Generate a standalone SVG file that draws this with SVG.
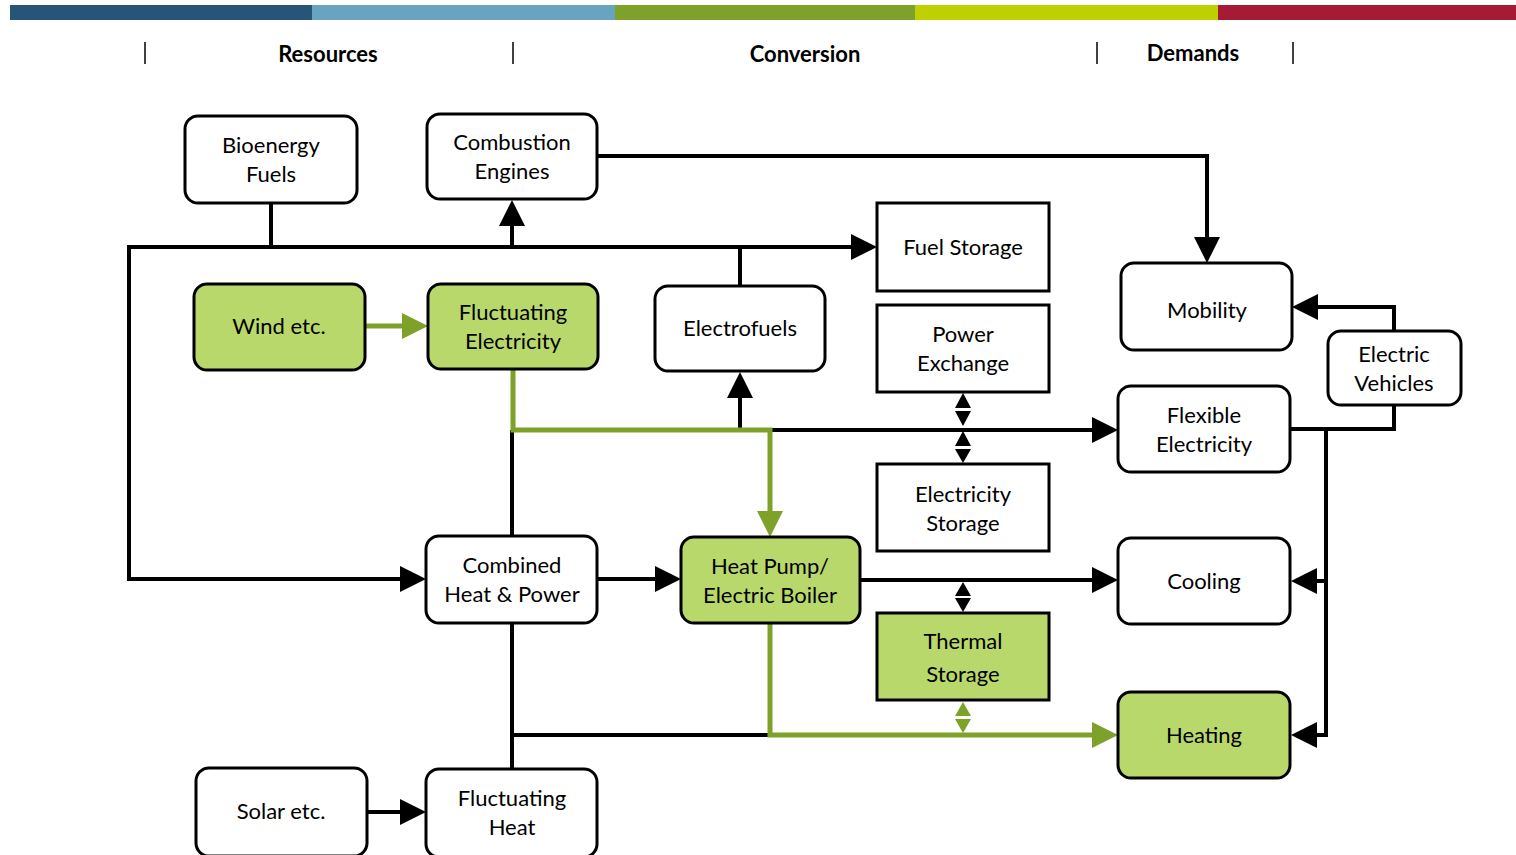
<svg xmlns="http://www.w3.org/2000/svg" width="1516" height="855" viewBox="0 0 1516 855">
<style>
.n{fill:#fff;stroke:#000;stroke-width:3}
.g{fill:#B9D86C;stroke:#000;stroke-width:3}
.t{font-family:Lato,"Liberation Sans",sans-serif;font-size:22px;fill:#000;text-anchor:middle;dominant-baseline:central;transform:translateY(-2px)}
.h{font-family:Lato,"Liberation Sans",sans-serif;font-size:22px;font-weight:bold;fill:#000;text-anchor:middle;dominant-baseline:central;transform:translateY(-1px)}
.c{fill:none;stroke:#000;stroke-width:4;stroke-linejoin:miter}
.cg{fill:none;stroke:#7EA12A;stroke-width:5;stroke-linejoin:miter}
.sep{stroke:#000;stroke-width:1.5}
</style>
<defs>
<marker id="ab" markerUnits="userSpaceOnUse" markerWidth="26" markerHeight="26" refX="18" refY="13" orient="auto" viewBox="0 0 26 26"><path d="M0,0 L26,13 L0,26 z" fill="#000"/></marker>
<marker id="ag" markerUnits="userSpaceOnUse" markerWidth="26" markerHeight="26" refX="18" refY="13" orient="auto" viewBox="0 0 26 26"><path d="M0,0 L26,13 L0,26 z" fill="#7EA12A"/></marker>
</defs>
<g id="header">
<rect x="10" y="5" width="302" height="15" fill="#275577"/>
<rect x="312" y="5" width="303" height="15" fill="#68A3C0"/>
<rect x="615" y="5" width="300" height="15" fill="#7EA12A"/>
<rect x="915" y="5" width="303" height="15" fill="#BFD000"/>
<rect x="1218" y="5" width="298" height="15" fill="#A51A35"/>
<line class="sep" x1="145" y1="42" x2="145" y2="64"/>
<line class="sep" x1="513" y1="42" x2="513" y2="64"/>
<line class="sep" x1="1097" y1="42" x2="1097" y2="64"/>
<line class="sep" x1="1293" y1="42" x2="1293" y2="64"/>
<text class="h" x="328" y="54">Resources</text>
<text class="h" x="805" y="54">Conversion</text>
<text class="h" x="1193" y="53">Demands</text>
</g>
<g id="connectors">
<path class="c" d="M271,203 V247"/>
<path class="c" d="M271,247 H869" marker-end="url(#ab)"/>
<path class="c" d="M271,247 H129 V579 H418" marker-end="url(#ab)"/>
<path class="c" d="M512,247 V208" marker-end="url(#ab)"/>
<path class="c" d="M740,286 V247"/>
<path class="c" d="M597,156 H1207 V255" marker-end="url(#ab)"/>
<path class="c" d="M740,430 V380" marker-end="url(#ab)"/>
<path class="c" d="M768,430 H1110" marker-end="url(#ab)"/>
<path class="c" d="M512,430 V536"/>
<path class="c" d="M597,579 H673" marker-end="url(#ab)"/>
<path class="c" d="M860,580 H1110" marker-end="url(#ab)"/>
<path class="c" d="M512,623 V769"/>
<path class="c" d="M512,735 H770"/>
<path class="c" d="M367,812 H418" marker-end="url(#ab)"/>
<path class="c" d="M1394,331 V307 H1300" marker-end="url(#ab)"/>
<path class="c" d="M1290,429 H1394 V405"/>
<path class="c" d="M1326,429 V735 H1299" marker-end="url(#ab)"/>
<path class="c" d="M1326,581 H1299" marker-end="url(#ab)"/>
<path class="cg" d="M365,326 H420" marker-end="url(#ag)"/>
<path class="cg" d="M513,369 V430 H770 V529" marker-end="url(#ag)"/>
<path class="cg" d="M770,623 V735 H1110" marker-end="url(#ag)"/>
<polygon points="963,393 955,408 971,408"/>
<polygon points="955,411 971,411 963,426"/>
<polygon points="963,431 955,446 971,446"/>
<polygon points="955,449 971,449 963,463"/>
<polygon points="963,582 955,596 971,596"/>
<polygon points="955,598 971,598 963,612"/>
<polygon points="963,702 955,716 971,716" fill="#7EA12A"/>
<polygon points="955,719 971,719 963,733" fill="#7EA12A"/>
</g>
<g id="bioenergy"><rect class="n" x="185" y="116" width="172" height="87" rx="13"/><text class="t" x="271" y="146">Bioenergy</text><text class="t" x="271" y="175">Fuels</text></g>
<g id="combustion"><rect class="n" x="427" y="114" width="170" height="85" rx="13"/><text class="t" x="512" y="143">Combustion</text><text class="t" x="512" y="172">Engines</text></g>
<g id="fuelstorage"><rect class="n" x="877" y="203" width="172" height="88"/><text class="t" x="963" y="248">Fuel Storage</text></g>
<g id="wind"><rect class="g" x="194" y="284" width="171" height="86" rx="13"/><text class="t" x="279" y="327">Wind etc.</text></g>
<g id="fluctelec"><rect class="g" x="428" y="284" width="170" height="85" rx="13"/><text class="t" x="513" y="313">Fluctuating</text><text class="t" x="513" y="342">Electricity</text></g>
<g id="electrofuels"><rect class="n" x="655" y="286" width="170" height="85" rx="13"/><text class="t" x="740" y="329">Electrofuels</text></g>
<g id="powerexchange"><rect class="n" x="877" y="305" width="172" height="87"/><text class="t" x="963" y="335">Power</text><text class="t" x="963" y="364">Exchange</text></g>
<g id="mobility"><rect class="n" x="1121" y="263" width="171" height="87" rx="13"/><text class="t" x="1207" y="311">Mobility</text></g>
<g id="ev"><rect class="n" x="1328" y="331" width="133" height="74" rx="13"/><text class="t" x="1394" y="355">Electric</text><text class="t" x="1394" y="384">Vehicles</text></g>
<g id="flexelec"><rect class="n" x="1118" y="386" width="172" height="86" rx="13"/><text class="t" x="1204" y="416">Flexible</text><text class="t" x="1204" y="445">Electricity</text></g>
<g id="elecstorage"><rect class="n" x="877" y="464" width="172" height="87"/><text class="t" x="963" y="495">Electricity</text><text class="t" x="963" y="524">Storage</text></g>
<g id="chp"><rect class="n" x="426" y="536" width="171" height="87" rx="13"/><text class="t" x="512" y="566">Combined</text><text class="t" x="512" y="595">Heat &amp; Power</text></g>
<g id="heatpump"><rect class="g" x="681" y="537" width="179" height="86" rx="13"/><text class="t" x="770" y="567">Heat Pump/</text><text class="t" x="770" y="596">Electric Boiler</text></g>
<g id="cooling"><rect class="n" x="1118" y="538" width="172" height="86" rx="13"/><text class="t" x="1204" y="582">Cooling</text></g>
<g id="thermalstorage"><rect class="g" x="877" y="613" width="172" height="87"/><text class="t" x="963" y="642">Thermal</text><text class="t" x="963" y="675">Storage</text></g>
<g id="heating"><rect class="g" x="1118" y="692" width="172" height="86" rx="13"/><text class="t" x="1204" y="736">Heating</text></g>
<g id="solar"><rect class="n" x="196" y="768" width="171" height="88" rx="13"/><text class="t" x="281" y="812">Solar etc.</text></g>
<g id="fluctheat"><rect class="n" x="426" y="769" width="171" height="88" rx="13"/><text class="t" x="512" y="799">Fluctuating</text><text class="t" x="512" y="828">Heat</text></g>
</svg>
